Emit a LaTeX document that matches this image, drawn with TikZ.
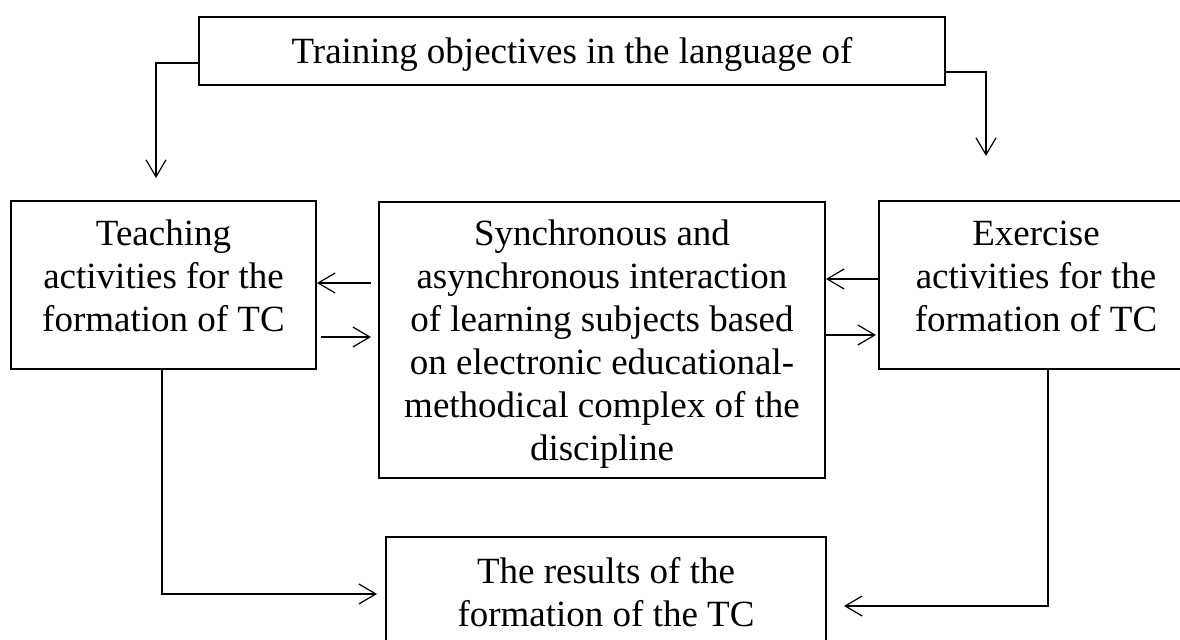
\documentclass[tikz,border=0pt]{standalone}
\usepackage{fontspec}
\setmainfont{Liberation Serif}
\usetikzlibrary{arrows.meta}
\begin{document}
\begin{tikzpicture}[x=0.5pt, y=-0.5pt,
    box/.style = {draw, line width=1pt, align=center, anchor=north, inner xsep=0pt, inner ysep=0pt,
                  font=\fontsize{18.5}{21.5}\selectfont},
    arr/.style = {-{Straight Barb[length=8.5pt, width=10pt]}, line width=0.6pt}]
            \clip (0,0) rectangle (1180,640);
            \node[box, minimum width=373pt, text height=23.5pt, text depth=10.5pt] (goals) at (572,16) {Training objectives in the language of};
            \node[box, minimum width=152.5pt, text height=65.5pt, text depth=18.5pt] (teach) at (163.5,200) {Teaching\\ activities for the\\ formation of TC};
            \node[box, minimum width=223pt, text height=129.5pt, text depth=8.5pt] (inter) at (602,201) {Synchronous and\\ asynchronous interaction\\ of learning subjects based\\ on electronic educational-\\ methodical complex of the\\ discipline};
            \node[box, minimum width=157pt, text height=65.5pt, text depth=18.5pt] (exer) at (1036,200) {Exercise\\ activities for the\\ formation of TC};
            \node[box, minimum width=220pt, text height=45pt, text depth=12pt] (result) at (606,536) {The results of the\\ formation of the TC};
            \coordinate (goalsL) at (156,178);
            \coordinate (goalsR) at (986,156);
            \draw[arr] ([yshift=-6pt]goals.west) -| (goalsL);
            \draw[arr] ([yshift=-10.5pt]goals.east) -| (goalsR);
            \draw[arr, shorten <=3.5pt] (inter.west |- 0,283) -- (teach.east |- 0,283);
            \draw[arr, shorten <=2pt, shorten >=3.5pt] (teach.east |- 0,337) -- (inter.west |- 0,337);
            \draw[arr] (exer.west |- 0,279) -- (inter.east |- 0,279);
            \draw[arr, shorten >=1pt] (inter.east |- 0,335) -- (exer.west |- 0,335);
            \draw[arr, shorten >=4pt] (teach.south -| 162,0) |- (result.west |- 0,594);
            \draw[arr, shorten >=8.5pt] (exer.south -| 1048,0) |- (result.east |- 0,606);
        \end{tikzpicture}
\end{document}
